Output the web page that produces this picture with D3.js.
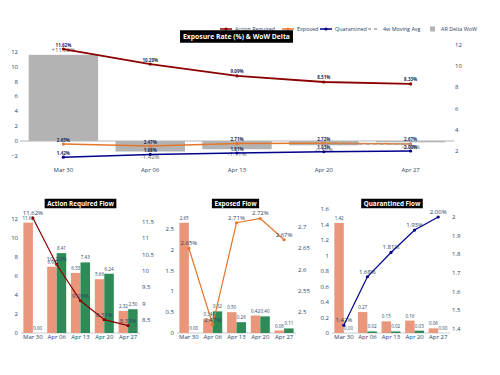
<!DOCTYPE html>
<html><head><meta charset="utf-8">
<script src="https://cdn.jsdelivr.net/npm/d3@7"></script>
<style>body{margin:0;background:#fff}svg{display:block;font-family:"Open Sans",verdana,arial,sans-serif}</style>
</head><body><svg id="c" width="500" height="375"></svg>
<script>
// ---- data ----
const weeks = ["Mar 30","Apr 06","Apr 13","Apr 20","Apr 27"];
const actionRequiredRate = [11.62,10.20,9.09,8.51,8.33];
const exposedRate = [2.65,2.47,2.71,2.72,2.67];
const quarantinedRate = [1.42,1.68,1.81,1.93,2.00];
const movingAvg4w = [null,null,null,2.64,2.64];
const arDeltaWoW = [11.62,-1.42,-1.11,-0.58,-0.18];
const arInflow = [11.62,6.98,6.33,5.66,2.32];
const arOutflow = [0.00,8.41,7.43,6.24,2.50];
const exInflow = [2.65,0.34,0.50,0.42,0.06];
const exOutflow = [0.00,0.52,0.26,0.40,0.11];
const qInflow = [1.42,0.27,0.15,0.16,0.06];
const qOutflow = [0.00,0.02,0.02,0.03,0.00];
const topLeftTicks = [-2,0,2,4,6,8,10,12];
const topRightTicks = [2,4,6,8,10,12];
const arLeftTicks = [0,2,4,6,8,10,12];
const arRightTicks = [8.5,9,9.5,10,10.5,11,11.5];
const exLeftTicks = [0,0.5,1,1.5,2,2.5];
const exRightTicks = [2.5,2.55,2.6,2.65,2.7];
const qLeftTicks = [0,0.2,0.4,0.6,0.8,1,1.2,1.4,1.6];
const qRightTicks = [1.4,1.5,1.6,1.7,1.8,1.9,2];

const C_AR="#8b0000", C_EX="#e5762d", C_Q="#00008b", C_MA="#a0a0a0", C_DELTA="#b3b3b3";
const C_IN="#e9967a", C_OUT="#2e8b57", FC="#2a3f5f";
const fmt = v => String(+v.toFixed(3));
const svg = d3.select("#c");

function titleBox(cx, cy, text, size, padX, h){
  const g = svg.append("g");
  const r = g.append("rect").attr("fill","#000");
  const t = g.append("text").attr("x",cx).attr("y",cy).attr("text-anchor","middle")
    .attr("dominant-baseline","central").attr("fill","#fff").attr("font-weight","bold")
    .attr("font-size",size).text(text);
  const w = t.node().getComputedTextLength();
  r.attr("x",cx-w/2-padX).attr("y",cy-h/2).attr("width",w+2*padX).attr("height",h);
}

// ---- top chart ----
const T = {x0:20,x1:454,y0:38,y1:161};
const xT = d3.scaleBand().domain(weeks).range([T.x0,T.x1]).paddingInner(0.2).paddingOuter(0.1);
const cxT = w => xT(w)+xT.bandwidth()/2;
const yTL = d3.scaleLinear().domain([-2.70,13.89]).range([T.y1,T.y0]);
const yTR = d3.scaleLinear().domain([1.057,12.66]).range([T.y1,T.y0]);
const gT = svg.append("g");
gT.append("line").attr("x1",T.x0).attr("x2",T.x1).attr("y1",yTL(0)).attr("y2",yTL(0))
  .attr("stroke","#cfcfcf").attr("stroke-width",1.5);
gT.selectAll("text.tl").data(topLeftTicks).join("text").attr("class","tl").attr("x",T.x0-2).attr("y",d=>yTL(d))
  .attr("text-anchor","end").attr("dominant-baseline","central").attr("font-size",6).attr("fill",FC)
  .text(d=>d<0?"\u2212"+Math.abs(d):d);
gT.selectAll("text.tr").data(topRightTicks).join("text").attr("class","tr").attr("x",T.x1+1).attr("y",d=>yTR(d))
  .attr("dominant-baseline","central").attr("font-size",6).attr("fill",FC).text(d=>d);
// delta bars
gT.selectAll("rect.db").data(weeks).join("rect").attr("class","db").attr("x",d=>xT(d)).attr("width",xT.bandwidth())
  .attr("y",(d,i)=>Math.min(yTL(0),yTL(arDeltaWoW[i]))).attr("height",(d,i)=>Math.abs(yTL(0)-yTL(arDeltaWoW[i])))
  .attr("fill",C_DELTA);
gT.selectAll("text.dl").data(weeks).join("text").attr("class","dl").attr("x",cxT)
  .attr("y",(d,i)=>arDeltaWoW[i]>=0? yTL(arDeltaWoW[i])-5 : yTL(arDeltaWoW[i])+5)
  .attr("text-anchor","middle").attr("dominant-baseline","central").attr("font-size",6).attr("fill","#666")
  .text((d,i)=>(arDeltaWoW[i]>=0?"+":"-")+Math.abs(arDeltaWoW[i]).toFixed(2)+"%");
gT.selectAll("text.tx").data(weeks).join("text").attr("class","tx").attr("x",cxT).attr("y",170)
  .attr("text-anchor","middle").attr("dominant-baseline","central").attr("font-size",6).attr("fill",FC).text(d=>d);
// lines
function drawLine(g, vals, x, y, color, width, dash, labelSize, labelColor, bold, labelOff, r){
  const pts = weeks.map((w,i)=>[x(w), vals[i]==null?null:y(vals[i])]).filter(p=>p[1]!=null);
  const gg = g.append("g");
  gg.append("path").attr("d",d3.line()(pts)).attr("fill","none").attr("stroke",color)
    .attr("stroke-width",width).attr("stroke-dasharray",dash||null);
  if(r) gg.append("g").selectAll("circle").data(pts).join("circle").attr("cx",p=>p[0]).attr("cy",p=>p[1]).attr("r",r).attr("fill",color);
  if(labelSize) gg.append("g").selectAll("text").data(weeks.map((w,i)=>[x(w),y(vals[i]),vals[i]])).join("text")
    .attr("x",p=>p[0]).attr("y",p=>p[1]-labelOff).attr("text-anchor","middle").attr("dominant-baseline","central")
    .attr("font-size",labelSize).attr("fill",labelColor).attr("font-weight",bold?"bold":null)
    .text(p=>p[2].toFixed(2)+"%");
}
drawLine(gT, actionRequiredRate, cxT, yTR, C_AR, 1.8, null, 4.5, "#1c2b5a", true, 4.5, 1.6);
drawLine(gT, exposedRate, cxT, yTR, C_EX, 1.5, null, 4.5, "#1c2b5a", true, 4.5, 1.6);
drawLine(gT, quarantinedRate, cxT, yTR, C_Q, 1.5, null, 4.5, "#1c2b5a", true, 4.5, 1.6);
drawLine(gT, movingAvg4w, cxT, yTR, C_MA, 1.2, "4,3", 0, null, false, 0, 0);
// legend
const lg = svg.append("g").attr("font-size",5.4).attr("fill",FC);
const legendItems = [
  {x:220, label:"Action Required", color:C_AR, type:"line"},
  {x:282, label:"Exposed", color:C_EX, type:"line"},
  {x:320, label:"Quarantined", color:C_Q, type:"line"},
  {x:368, label:"4w Moving Avg", color:C_MA, type:"dash"},
  {x:430, label:"AR Delta WoW", color:C_DELTA, type:"bar"}
];
const LY = 29;
legendItems.forEach(it=>{
  if(it.type==="bar"){
    lg.append("rect").attr("x",it.x).attr("y",LY-2.5).attr("width",5).attr("height",5).attr("fill",it.color);
    lg.append("text").attr("x",it.x+11).attr("y",LY).attr("dominant-baseline","central").attr("fill",FC).text(it.label);
  } else {
    lg.append("line").attr("x1",it.x).attr("x2",it.x+12).attr("y1",LY).attr("y2",LY).attr("stroke",it.color)
      .attr("stroke-width",1.5).attr("stroke-dasharray",it.type==="dash"?"3,3":null);
    if(it.type==="line") lg.append("circle").attr("cx",it.x+6).attr("cy",LY).attr("r",1.5).attr("fill",it.color);
    lg.append("text").attr("x",it.x+15).attr("y",LY).attr("dominant-baseline","central").attr("fill",FC).text(it.label);
  }
});
titleBox(236.5, 36.5, "Exposure Rate (%) & WoW Delta", 6.8, 3, 12.5);

// ---- bottom subplots ----
const subs = [
  {x0:21,x1:140,ld:[0,13.16],rd:[8.102,11.929],lt:arLeftTicks,rt:arRightTicks,inf:arInflow,out:arOutflow,rate:actionRequiredRate,color:C_AR,title:"Action Required Flow",tcx:80.5},
  {x0:177,x1:296,ld:[0,3.005],rd:[2.4506,2.7447],lt:exLeftTicks,rt:exRightTicks,inf:exInflow,out:exOutflow,rate:exposedRate,color:C_EX,title:"Exposed Flow",tcx:235.5},
  {x0:332,x1:450,ld:[0,1.613],rd:[1.3786,2.0482],lt:qLeftTicks,rt:qRightTicks,inf:qInflow,out:qOutflow,rate:quarantinedRate,color:C_Q,title:"Quarantined Flow",tcx:392}
];
const BY0=208, BY1=333;
subs.forEach(s=>{
  const g = svg.append("g");
  const x = d3.scaleBand().domain(weeks).range([s.x0,s.x1]).paddingInner(0.2).paddingOuter(0.1);
  const xs = d3.scaleBand().domain(["in","out"]).range([0,x.bandwidth()]);
  const cx = w => x(w)+x.bandwidth()/2;
  const yL = d3.scaleLinear().domain(s.ld).range([BY1,BY0]);
  const yR = d3.scaleLinear().domain(s.rd).range([BY1,BY0]);
  g.append("line").attr("x1",s.x0).attr("x2",s.x1).attr("y1",yL(0)).attr("y2",yL(0)).attr("stroke","#c8ccd4").attr("stroke-width",1);
  g.append("g").selectAll("text").data(s.lt).join("text").attr("x",s.x0-3).attr("y",d=>yL(d)).attr("text-anchor","end")
    .attr("dominant-baseline","central").attr("font-size",6).attr("fill",FC).text(fmt);
  g.append("g").selectAll("text").data(s.rt).join("text").attr("x",s.x1+2).attr("y",d=>yR(d))
    .attr("dominant-baseline","central").attr("font-size",6).attr("fill",FC).text(fmt);
  g.append("g").selectAll("text").data(weeks).join("text").attr("x",cx).attr("y",337).attr("text-anchor","middle")
    .attr("dominant-baseline","central").attr("font-size",6).attr("fill",FC).text(d=>d);
  [["in",s.inf,C_IN],["out",s.out,C_OUT]].forEach(([k,vals,col])=>{
    g.append("g").selectAll("rect").data(weeks).join("rect").attr("x",d=>x(d)+xs(k)).attr("width",xs.bandwidth())
      .attr("y",(d,i)=>yL(vals[i])).attr("height",(d,i)=>yL(0)-yL(vals[i])).attr("fill",col);
    g.append("g").selectAll("text").data(weeks).join("text").attr("x",d=>x(d)+xs(k)+xs.bandwidth()/2)
      .attr("y",(d,i)=>yL(vals[i])-3).attr("text-anchor","middle").attr("font-size",4.5).attr("fill",FC)
      .text((d,i)=>vals[i].toFixed(2));
  });
  drawLine(g, s.rate, cx, yR, s.color, 1.2, null, 6, FC, false, 5, 1.6);
  titleBox(s.tcx, 203.5, s.title, 6.3, 2.5, 9.5);
});
</script></body></html>
